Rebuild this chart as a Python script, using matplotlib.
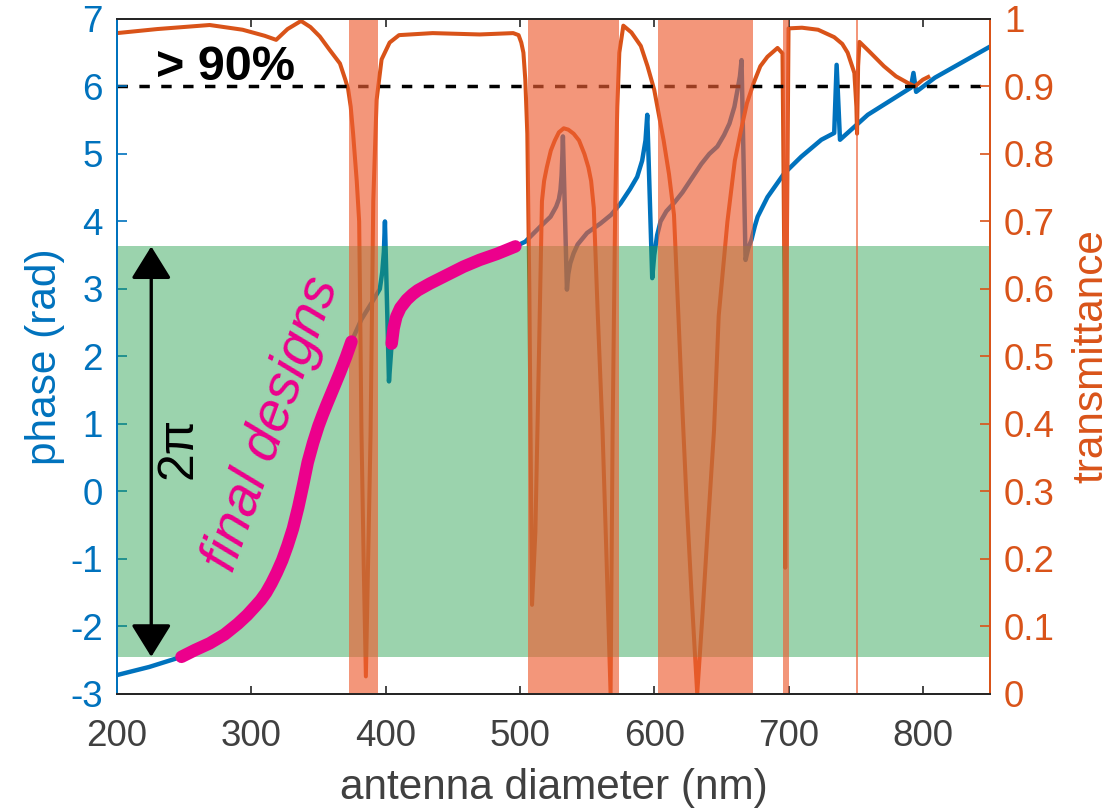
import numpy as np
import matplotlib.pyplot as plt

plt.rcParams['font.family'] = ['Liberation Sans', 'DejaVu Sans']
plt.rcParams['axes.unicode_minus'] = False

# phase of the antenna (rad) vs diameter (nm)
phase_nm = [200, 224, 248, 258, 269, 280, 290, 297, 303, 307, 311, 315, 319, 323, 327, 331,
            335, 338.6, 342, 346, 350, 353, 356, 361, 366, 370.5, 374.6, 382, 390.7, 395.7,
            397.5, 398.7, 399.5, 402.5, 404.5, 406, 408, 411, 415.7, 420, 424, 433, 445, 458,
            470, 483, 496.6, 504, 515, 522.8, 527, 529, 530.2, 531, 531.6, 532, 535, 536,
            537.5, 540, 543, 550, 560, 568, 575, 582, 587.3, 591, 593.5, 594.8, 598.5, 600,
            602.2, 604.7, 609, 615, 621, 627, 635, 641, 647, 652, 656, 659.7, 662, 663.8, 665,
            668, 670, 672.4, 674.9, 677, 684.3, 696.7, 709.5, 724.4, 734, 735.8, 738.3, 759,
            791, 793, 795, 809, 850]
phase_rad = [-2.72, -2.60, -2.45, -2.35, -2.25, -2.12, -1.96, -1.83, -1.70, -1.61, -1.50,
             -1.36, -1.20, -1.02, -0.80, -0.55, -0.23, 0.10, 0.43, 0.72, 0.97, 1.13, 1.28,
             1.52, 1.76, 1.99, 2.22, 2.55, 2.83, 3.00, 3.25, 3.55, 4.00, 1.63, 2.19, 2.42,
             2.59, 2.72, 2.84, 2.92, 2.98, 3.08, 3.20, 3.33, 3.43, 3.52, 3.63, 3.70, 3.92,
             4.07, 4.22, 4.33, 4.47, 4.68, 4.98, 5.26, 2.99, 3.22, 3.38, 3.53, 3.66, 3.83,
             3.97, 4.10, 4.27, 4.48, 4.66, 4.90, 5.20, 5.58, 3.16, 3.50, 3.80, 4.00, 4.15,
             4.28, 4.43, 4.61, 4.85, 5.00, 5.11, 5.28, 5.45, 5.70, 5.95, 6.15, 6.39, 3.43,
             3.60, 3.73, 3.93, 4.07, 4.36, 4.71, 4.96, 5.21, 5.31, 6.32, 5.21, 5.58, 5.98,
             6.20, 5.92, 6.13, 6.59]

# transmittance vs diameter
trans_nm = [200, 230, 269, 293.5, 310, 318.5, 327, 337, 344, 351, 358, 366, 370, 372, 374,
            375.8, 378.5, 380.3, 381, 382, 383.8, 385.3, 386.8, 388.8, 390.8, 393.3, 397, 403,
            410, 435, 470, 495, 499, 501, 502.6, 504, 505.5, 507, 509, 511.5, 514, 516.4, 518,
            520, 523, 526, 529, 532.6, 536, 540, 544, 548, 551, 553, 555, 558, 561.5, 564.5,
            567.5, 569, 571, 572.5, 574, 577, 583, 590, 595, 600, 607, 611, 614.7, 618, 621,
            624, 628, 632, 636, 640, 644.5, 648, 654.5, 660, 664.6, 669, 674, 679, 684.3, 691.8,
            695.5, 697, 697.5, 698.5, 700, 710, 722, 734, 740, 744, 749, 750.5, 751, 751.8,
            752.8, 760, 771, 780, 789, 794, 800, 804]
trans_val = [0.979, 0.985, 0.991, 0.984, 0.975, 0.969, 0.985, 0.997, 0.988, 0.974, 0.955,
             0.934, 0.91, 0.897, 0.87, 0.83, 0.76, 0.70, 0.58, 0.39, 0.18, 0.026, 0.18, 0.386,
             0.73, 0.88, 0.94, 0.965, 0.976, 0.979, 0.977, 0.979, 0.976, 0.965, 0.95, 0.91,
             0.83, 0.6, 0.132, 0.24, 0.485, 0.73, 0.76, 0.78, 0.805, 0.82, 0.832, 0.838, 0.836,
             0.83, 0.82, 0.80, 0.78, 0.76, 0.72, 0.56, 0.39, 0.2, 0.0, 0.386, 0.73, 0.87, 0.95,
             0.99, 0.98, 0.96, 0.93, 0.895, 0.82, 0.77, 0.71, 0.56, 0.42, 0.29, 0.14, 0.0, 0.12,
             0.25, 0.39, 0.56, 0.70, 0.79, 0.835, 0.875, 0.905, 0.93, 0.944, 0.957, 0.949, 0.6,
             0.187, 0.6, 0.986, 0.987, 0.984, 0.973, 0.963, 0.95, 0.92, 0.87, 0.83, 0.93,
             0.966, 0.952, 0.93, 0.915, 0.905, 0.9, 0.91, 0.914]

# diameter ranges used as final designs
design_ranges = [(248, 374.6), (404.5, 496.6)]
# low-transmittance ranges (shaded red)
low_t_ranges = [(373, 394.5), (506.2, 573.4), (602.6, 673.5), (696, 700.6), (750.4, 751.6)]
# 2pi phase band
band_lo, band_hi = -2.45, 3.63
threshold = 0.9

blue = '#0072BD'
orange = '#D95319'
grey = '#262626'

fig = plt.figure(figsize=(11.1, 8.09), dpi=100)
ax = fig.add_axes([0.1054, 0.1422, 0.7865, 0.8344])
ax2 = ax.twinx()
ax.set_xlim(200, 850)
ax.set_ylim(-3, 7)
ax2.set_ylim(0, 1)

nm = np.array(phase_nm)
ph = np.array(phase_rad)
ax.plot(nm, ph, color=blue, lw=3.2, zorder=1, solid_joinstyle='round')
ax.plot(trans_nm, trans_val, color=orange, lw=2.9, zorder=1.2, solid_joinstyle='round',
        transform=ax2.transData)
ax.plot([200, 850], [threshold, threshold], 'k--', lw=2.5, dashes=(3, 3.3), zorder=1.5,
        transform=ax2.transData)

ax.axhspan(band_lo, band_hi, color='#219E4B', alpha=0.45, lw=0, zorder=2)
for lo, hi in low_t_ranges:
    ax.axvspan(lo, hi, color='#EE5E33', alpha=0.65, lw=0, zorder=3)

for lo, hi in design_ranges:
    m = (nm >= lo) & (nm <= hi)
    ax.plot(nm[m], ph[m], color='#EC008C', lw=9, solid_capstyle='round',
            solid_joinstyle='round', zorder=4)

ax.annotate('', xy=(225.5, band_lo), xytext=(225.5, band_hi),
            arrowprops=dict(arrowstyle='<|-|>,head_length=1.0,head_width=0.62',
                            color='k', lw=2.4, mutation_scale=20, shrinkA=0, shrinkB=0),
            zorder=5)
ax.text(245.7, 0.64, '2π', rotation=90, fontsize=36, ha='center', va='center', zorder=5)
ax.text(316, 1.0, 'final designs', rotation=70, rotation_mode='anchor', fontsize=40,
        style='italic', color='#EC008C', ha='center', va='center', zorder=5)
ax.text(229, 6.1, '> 90%', fontsize=35, fontweight='bold', ha='left', va='baseline', zorder=5)

ax.set_xticks([200, 300, 400, 500, 600, 700, 800])
ax.set_yticks(range(-3, 8))
ax2.set_yticks(np.arange(0, 1.01, 0.1))
ax2.set_yticklabels(['0', '0.1', '0.2', '0.3', '0.4', '0.5', '0.6', '0.7', '0.8', '0.9', '1'])

ax.tick_params(axis='x', direction='in', top=True, length=6, width=1.2, colors=grey,
               labelsize=26.5, pad=18)
ax.tick_params(axis='y', direction='in', length=7, width=1.2, colors=blue, labelsize=26.5,
               pad=10)
ax2.tick_params(axis='y', direction='in', length=7, width=1.2, colors=orange,
                labelsize=26.5, pad=10)
for lab in ax.get_xticklabels():
    lab.set_color('#404040')

for a in (ax, ax2):
    a.spines['top'].set_color(grey)
    a.spines['bottom'].set_color(grey)
    a.spines['left'].set_color(blue)
    a.spines['right'].set_color(orange)
    for s in a.spines.values():
        s.set_linewidth(1.4)

ax.set_xlabel('antenna diameter (nm)', fontsize=30.5, color='#404040', labelpad=10)
ax.set_ylabel('phase (rad)', fontsize=30.5, color=blue, labelpad=4)
ax2.set_ylabel('transmittance', fontsize=30.5, color=orange, labelpad=12)

fig.savefig('out.png', dpi=100)
